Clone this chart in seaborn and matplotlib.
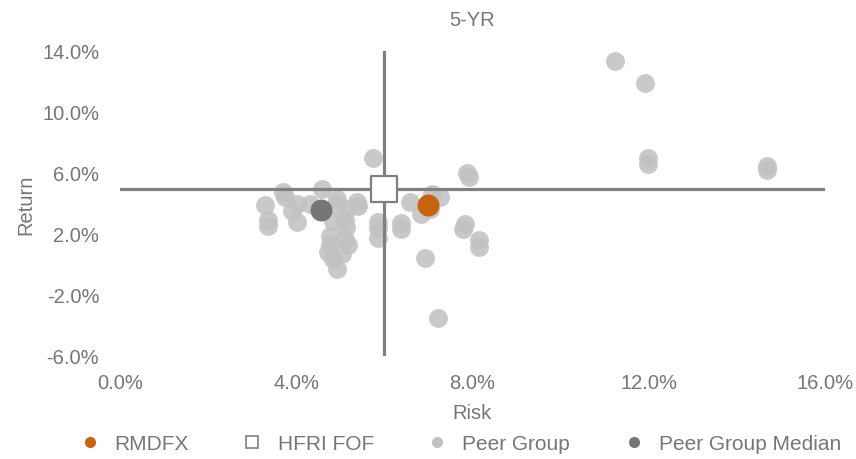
import matplotlib
matplotlib.use("Agg")
import matplotlib.pyplot as plt
from matplotlib.lines import Line2D
from matplotlib.ticker import FuncFormatter
import pandas as pd
import seaborn as sns

# 5-year annualised risk / return, in percent
peer_risk = [11.23, 11.92, 11.98, 11.98, 14.68, 14.68, 5.74, 7.88, 7.92, 7.08,
             6.58, 6.83, 7.04, 6.38, 6.38, 7.83, 7.78, 8.15, 8.15, 6.92,
             7.22, 5.86, 5.86, 5.86, 3.29, 3.36, 3.36, 3.70, 3.74, 4.02,
             3.90, 4.02, 4.58, 4.31, 4.93, 4.90, 5.38, 5.40, 5.15, 5.11,
             5.13, 4.83, 4.77, 4.77, 4.72, 4.83, 4.93, 5.11, 5.17, 5.04,
             7.26]
peer_return = [13.32, 11.92, 6.99, 6.59, 6.46, 6.20, 6.99, 6.00, 5.74, 4.62,
               4.09, 3.30, 3.63, 2.71, 2.32, 2.64, 2.32, 1.59, 1.13, 0.41,
               -3.54, 2.78, 2.38, 1.72, 3.89, 2.91, 2.51, 4.75, 4.42, 3.96,
               3.50, 2.78, 4.95, 3.96, 4.29, 3.89, 4.09, 3.83, 3.63, 2.91,
               2.45, 2.84, 1.86, 1.33, 0.80, 0.34, -0.32, 1.66, 1.26, 0.67,
               4.42]

fund_risk, fund_return = [6.99], [3.89]        # RMDFX
index_risk, index_return = [6.00], [4.95]      # HFRI FOF
median_risk, median_return = [4.56], [3.57]    # Peer Group Median

x_ticks = [0, 4, 8, 12, 16]
y_ticks = [-6, -2, 2, 6, 10, 14]

c_fund = "#C8640F"
c_peer = "#C2C2C2"
c_median = "#767676"
c_line = "#808080"
c_text = "#767676"
fs = 14.5

sns.set_theme(style="white")
plt.rcParams["font.family"] = ["Liberation Sans", "DejaVu Sans"]

peers = pd.DataFrame({"Risk": peer_risk, "Return": peer_return})
fund = pd.DataFrame({"Risk": fund_risk, "Return": fund_return})
index = pd.DataFrame({"Risk": index_risk, "Return": index_return})
median = pd.DataFrame({"Risk": median_risk, "Return": median_return})

fig = plt.figure(figsize=(8.56, 4.60), dpi=100)
ax = fig.add_axes([120 / 856, 1 - 357 / 460, 705 / 856, 305 / 460])

sns.scatterplot(data=peers, x="Risk", y="Return", ax=ax, color=c_peer,
                s=185, linewidth=0, alpha=0.88, zorder=2, legend=False)

# crosshair through the benchmark
ax.axhline(index_return[0], color=c_line, lw=2.3, zorder=3)
ax.axvline(index_risk[0], color=c_line, lw=2.3, zorder=3)

sns.scatterplot(data=median, x="Risk", y="Return", ax=ax, color=c_median,
                s=250, linewidth=0, zorder=4, legend=False)
sns.scatterplot(data=fund, x="Risk", y="Return", ax=ax, color=c_fund,
                s=250, linewidth=0, zorder=5, legend=False)
sns.scatterplot(data=index, x="Risk", y="Return", ax=ax, marker="s",
                color="white", edgecolor=c_line, linewidth=1.6, s=330,
                zorder=6, legend=False)

ax.set_xlim(0, 16)
ax.set_ylim(-6, 14)
ax.set_xticks(x_ticks)
ax.set_yticks(y_ticks)
pct = FuncFormatter(lambda v, _: f"{v:.1f}%")
ax.xaxis.set_major_formatter(pct)
ax.yaxis.set_major_formatter(pct)
ax.tick_params(axis="x", labelsize=fs, colors=c_text, length=0, pad=12)
ax.tick_params(axis="y", labelsize=fs, colors=c_text, length=0, pad=15)
for s in ax.spines.values():
    s.set_visible(False)
ax.grid(False)

ax.set_xlabel("Risk", fontsize=fs, color=c_text, labelpad=8)
ax.set_ylabel("Return", fontsize=fs, color=c_text, labelpad=5)
ax.set_title("5-YR", fontsize=fs, color=c_text, pad=19)

handles = [
    Line2D([], [], ls="none", marker="o", ms=7, mfc=c_fund, mec=c_fund),
    Line2D([], [], ls="none", marker="s", ms=8, mfc="white", mec=c_line, mew=1.2),
    Line2D([], [], ls="none", marker="o", ms=7, mfc=c_peer, mec=c_peer),
    Line2D([], [], ls="none", marker="o", ms=7, mfc=c_median, mec=c_median),
]
labels = ["RMDFX", "HFRI FOF", "Peer Group", "Peer Group Median"]
fig.legend(handles, labels, loc="center", bbox_to_anchor=(460 / 856, 1 - 445 / 460),
           ncol=4, frameon=False, fontsize=15, labelcolor=c_text,
           handletextpad=0.7, columnspacing=2.55, handlelength=1.0)

fig.savefig("out.png", dpi=100)
